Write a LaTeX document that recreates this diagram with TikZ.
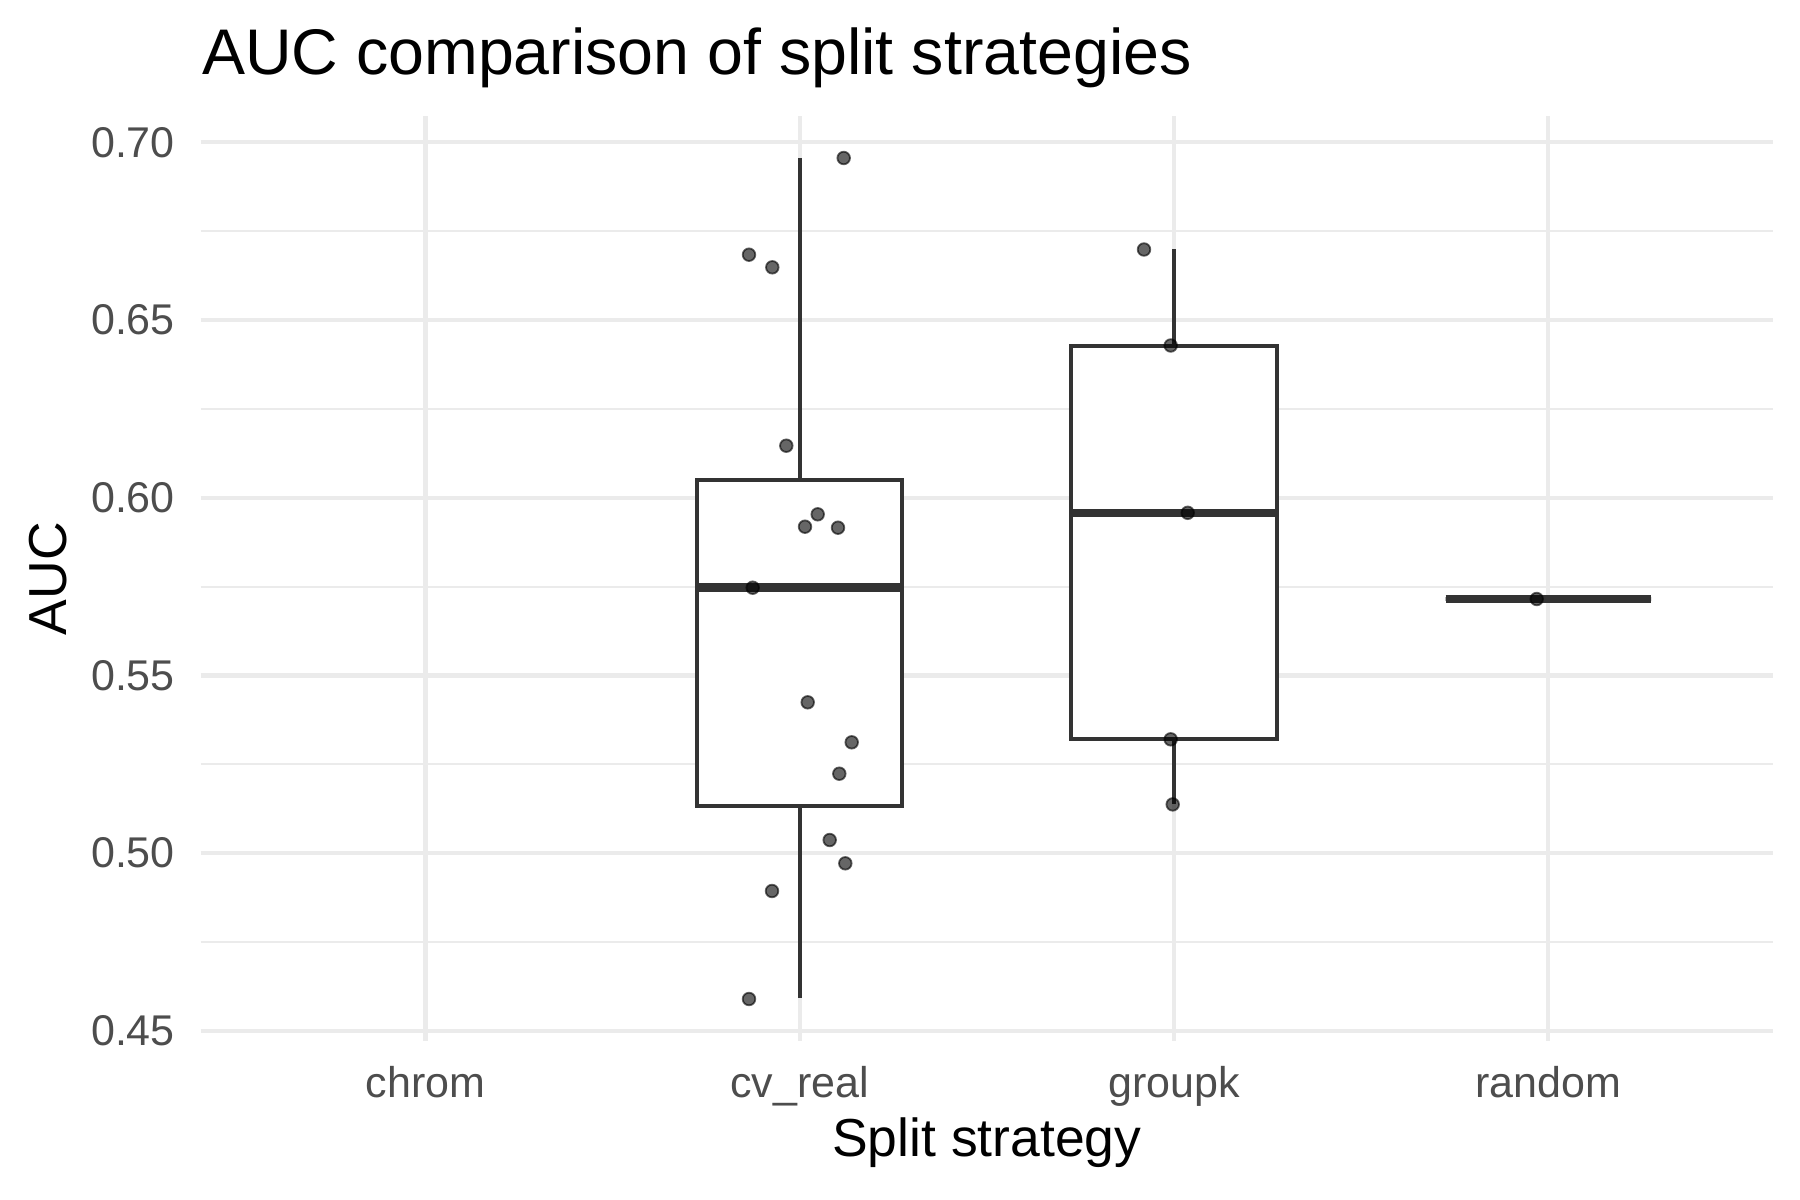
\documentclass[tikz,border=0pt]{standalone}
\usepackage{fontspec}
\setmainfont{Liberation Sans}
\definecolor{gridc}{HTML}{EBEBEB}
\definecolor{boxc}{HTML}{333333}
\definecolor{tickc}{HTML}{4D4D4D}
\tikzset{
  majorgrid/.style={draw=gridc, line width=4.2pt},
  minorgrid/.style={draw=gridc, line width=2.1pt},
  boxline/.style={draw=boxc, line width=4pt, line join=miter},
  medline/.style={draw=boxc, line width=8.5pt},
  pt/.style={circle, minimum size=12.6pt, inner sep=0pt, fill=black, draw=black, line width=1.8pt, fill opacity=0.6, draw opacity=0.6},
  ytick/.style={anchor=east, inner sep=0pt, text=tickc, font=\fontsize{43}{47}\selectfont},
  xtick/.style={anchor=base, inner sep=0pt, text=tickc, font=\fontsize{43}{47}\selectfont},
  axtitle/.style={anchor=base, inner sep=0pt, text=black, font=\fontsize{53.5}{58}\selectfont},
}
\begin{document}
\begin{tikzpicture}[x=1pt, y=-1pt]
\useasboundingbox[fill=white] (0,0) rectangle (1800,1200);
% minor horizontal grid
\foreach \yy in {941.95, 764.25, 586.55, 408.85, 231.15}
  \draw[minorgrid] (200.8,\yy) -- (1772.9,\yy);
% major horizontal grid
\foreach \yy in {1030.8, 853.1, 675.4, 497.7, 320.0, 142.3}
  \draw[majorgrid] (200.8,\yy) -- (1772.9,\yy);
% vertical grid
\foreach \xx in {425.4, 799.7, 1174.0, 1548.3}
  \draw[majorgrid] (\xx,116.4) -- (\xx,1040.8);
% y tick labels
\node[ytick] (y45) at (175,1030.8) {0.45};
\node[ytick] (y50) at (175,853.1) {0.50};
\node[ytick] (y55) at (175,675.4) {0.55};
\node[ytick] (y60) at (175,497.7) {0.60};
\node[ytick] (y65) at (175,320.0) {0.65};
\node[ytick] (y70) at (175,142.3) {0.70};
% x tick labels
\node[xtick] (xc) at (425.4,1097.3) {chrom};
\node[xtick] (xr) at (799.7,1097.3) {cv\_real};
\node[xtick] (xg) at (1174.0,1097.3) {groupk};
\node[xtick] (xd) at (1548.3,1097.3) {random};
% titles
\node[axtitle] (xt) at (986.8,1156.7) {Split strategy};
\node[axtitle, rotate=90] (yt) at (66.7,578.6) {AUC};
\node[anchor=base west, inner sep=0pt, font=\fontsize{64.5}{70}\selectfont] (title) at (202,74) {AUC comparison of split strategies};
% cv_real box
\draw[boxline] (799.7,480) -- (799.7,158.3);
\draw[boxline] (799.7,805.7) -- (799.7,998.3);
\draw[boxline, fill=white] (697,480) rectangle (902.4,805.7);
\draw[medline] (697,587.7) -- (902.4,587.7);
% groupk box
\draw[boxline] (1174,345.5) -- (1174,248.7);
\draw[boxline] (1174,739.3) -- (1174,804.4);
\draw[boxline, fill=white] (1071.3,345.5) rectangle (1276.7,739.3);
\draw[medline] (1071.3,512.8) -- (1276.7,512.8);
% random
\draw[boxline] (1445.6,599) rectangle (1651,599);
\draw[medline] (1445.6,599) -- (1651,599);
% points
\foreach \px/\py in {843.7/158, 749/254.7, 772.3/267.3, 786.3/445.7, 817.7/514.3, 805/526.7, 838/527.7, 752.7/587.7, 807.7/702.3, 851.7/742.3, 839.3/773.7, 829.7/840, 845.3/863.3, 772/891, 749/999,
  1144/249.5, 1170.7/345.5, 1187.7/512.8, 1170.7/739.3, 1172.7/804.4, 1536.7/599}
  \node[pt] at (\px,\py) {};
\end{tikzpicture}
\end{document}
